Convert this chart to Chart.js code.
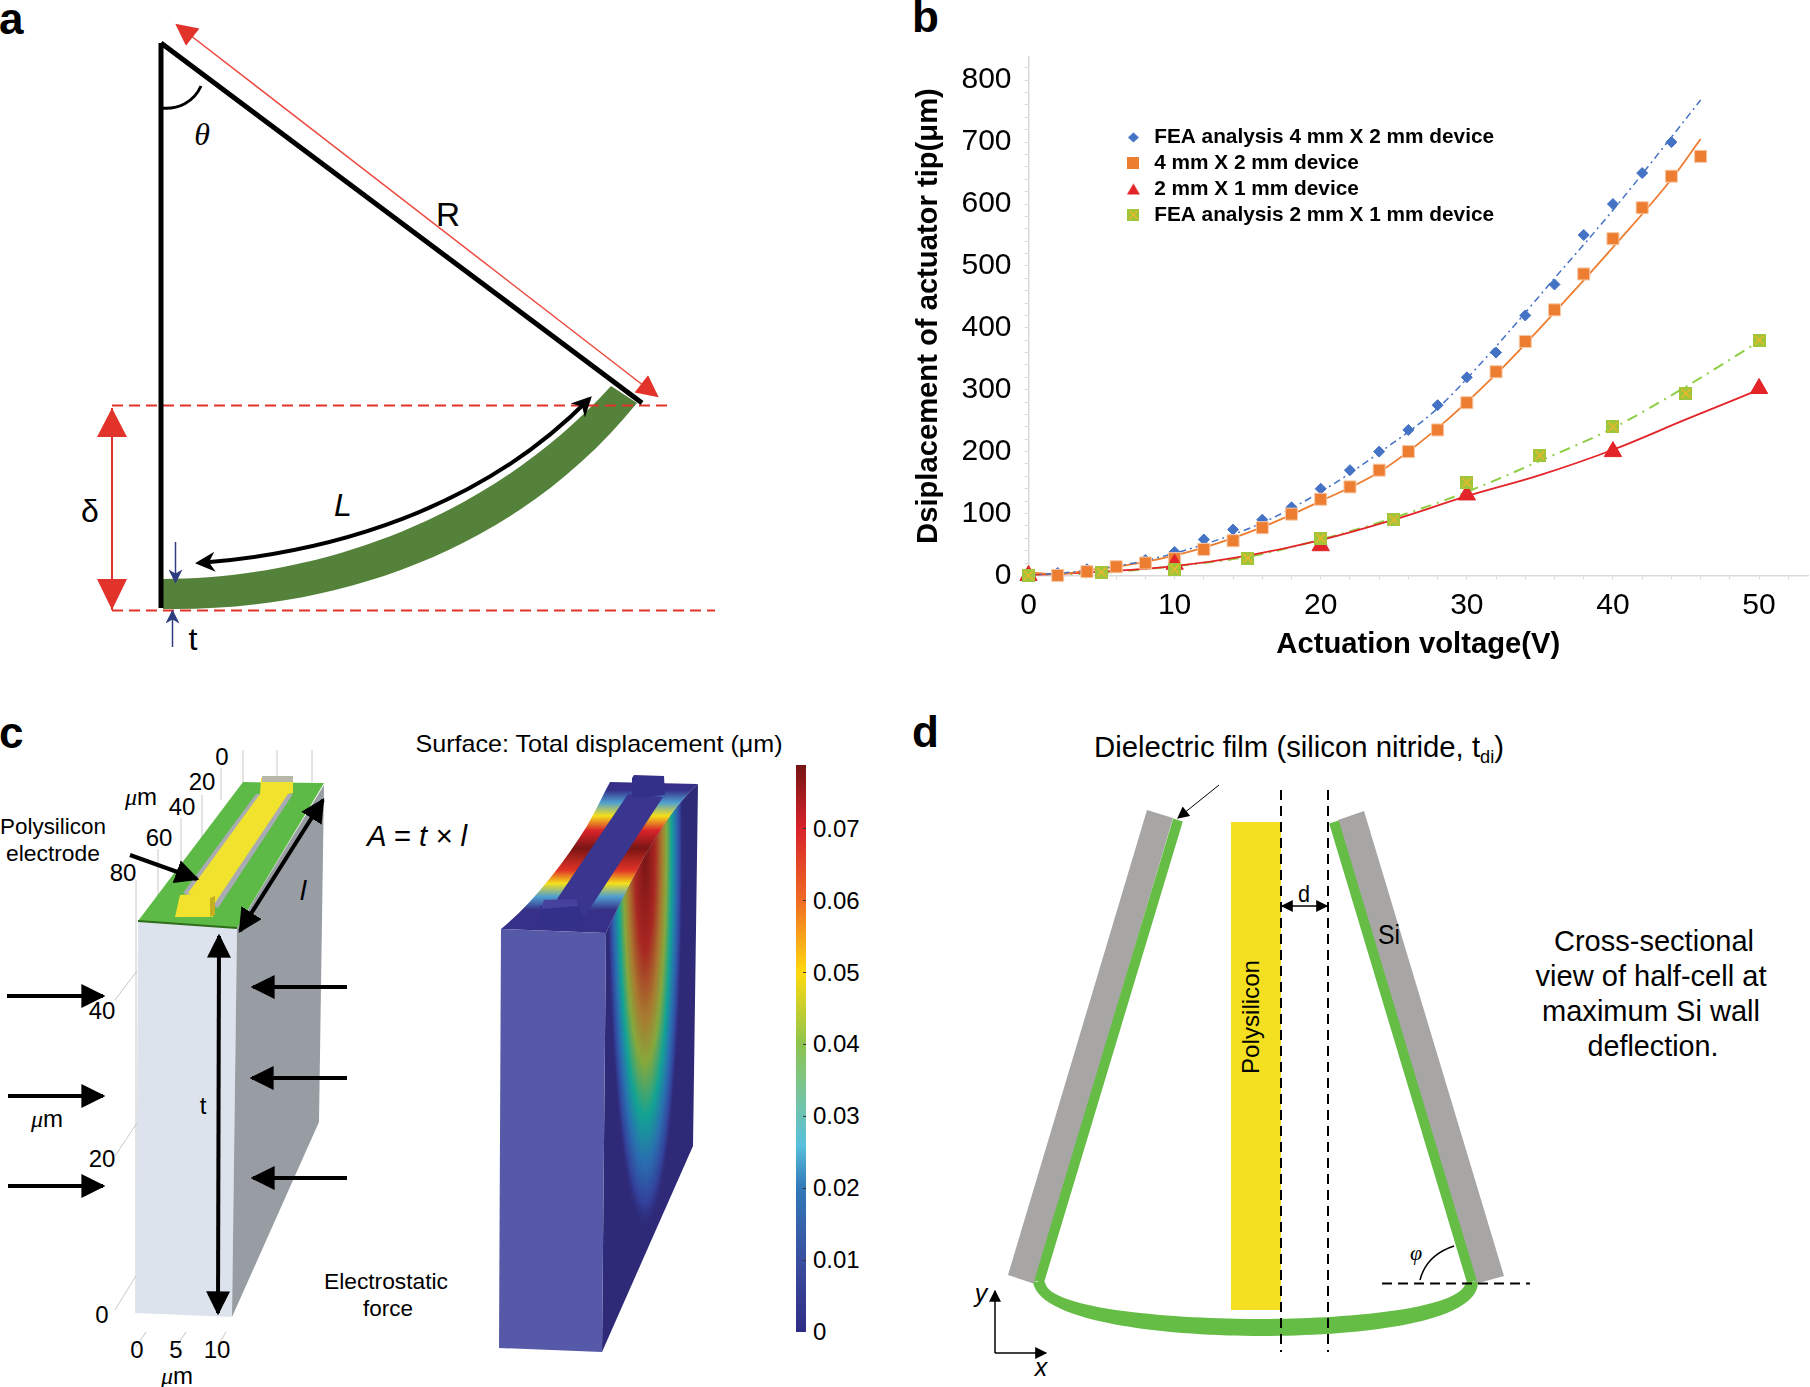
<!DOCTYPE html>
<html>
<head>
<meta charset="utf-8">
<title>Actuator figure</title>
<script src="https://cdn.jsdelivr.net/npm/chart.js@4"></script>
<style>
  html, body { margin: 0; background: #fff; }
  body { width: 1810px; height: 1387px; position: relative; overflow: hidden; }
  #figure { position: absolute; left: 0; top: 0; }
  #figure text { font-family: "Liberation Sans", sans-serif; fill: #000; }
  #figure .serif { font-family: "Liberation Serif", serif; font-style: italic; }
  #figure .letter { font-size: 44px; font-weight: bold; }
  #chart-box { position: absolute; left: 900px; top: 0; width: 910px; height: 680px; }
</style>
</head>
<body>
<svg id="figure" width="1810" height="1387" viewBox="0 0 1810 1387">
  <defs>
    <marker id="blk" viewBox="0 0 10 10" refX="9" refY="5" markerWidth="24" markerHeight="24" markerUnits="userSpaceOnUse" orient="auto-start-reverse"><path d="M0 0L10 5L0 10z" fill="#000"/></marker>
    <marker id="blkSmall" viewBox="0 0 10 10" refX="9" refY="5" markerWidth="14" markerHeight="12" markerUnits="userSpaceOnUse" orient="auto-start-reverse"><path d="M0 0L10 5L0 10z" fill="#000"/></marker>
    <marker id="barb" viewBox="0 0 10 10" refX="8" refY="5" markerWidth="24" markerHeight="20" markerUnits="userSpaceOnUse" orient="auto-start-reverse"><path d="M0 0L10 5L0 10L3 5z" fill="#000"/></marker>
    <marker id="redHead" viewBox="0 0 10 10" refX="9" refY="5" markerWidth="24" markerHeight="22" markerUnits="userSpaceOnUse" orient="auto-start-reverse"><path d="M0 0L10 5L0 10z" fill="#e2332a"/></marker>
    <marker id="navy" viewBox="0 0 10 10" refX="9" refY="5" markerWidth="15" markerHeight="14" markerUnits="userSpaceOnUse" orient="auto-start-reverse"><path d="M0 0L10 5L0 10L3 5z" fill="#2e3c80"/></marker>
    <linearGradient id="scale" x1="0" y1="1" x2="0" y2="0">
      <stop offset="0" stop-color="#2f2c85"/><stop offset="0.126" stop-color="#3a4ea0"/>
      <stop offset="0.253" stop-color="#3178b8"/><stop offset="0.33" stop-color="#58c0dc"/>
      <stop offset="0.42" stop-color="#78c59a"/><stop offset="0.507" stop-color="#8dc44f"/>
      <stop offset="0.634" stop-color="#ffd90f"/><stop offset="0.76" stop-color="#ef6c23"/>
      <stop offset="0.887" stop-color="#d9232a"/><stop offset="1" stop-color="#761414"/>
    </linearGradient>
    <linearGradient id="band" gradientUnits="userSpaceOnUse" x1="0" y1="929" x2="0" y2="782">
      <stop offset="0.13" stop-color="#363089"/><stop offset="0.22" stop-color="#4f9fd0"/>
      <stop offset="0.31" stop-color="#f4e01c"/><stop offset="0.4" stop-color="#e03226"/>
      <stop offset="0.55" stop-color="#7a1515"/><stop offset="0.67" stop-color="#d9232a"/>
      <stop offset="0.77" stop-color="#f4e01c"/><stop offset="0.86" stop-color="#4f9fd0"/>
      <stop offset="0.945" stop-color="#363089"/>
    </linearGradient>
    <radialGradient id="heat" gradientUnits="userSpaceOnUse" cx="0" cy="0" r="1" gradientTransform="translate(645 850) scale(38 380)">
      <stop offset="0" stop-color="#761414"/><stop offset="0.26" stop-color="#a82622"/>
      <stop offset="0.44" stop-color="#a87a30"/><stop offset="0.56" stop-color="#86a83c"/>
      <stop offset="0.7" stop-color="#12a394"/><stop offset="0.82" stop-color="#2a6fb0"/>
      <stop offset="0.93" stop-color="#33409a"/><stop offset="1" stop-color="#2e2a78" stop-opacity="0"/>
    </radialGradient>
    <clipPath id="sideClip"><path d="M606 933C640 860 670 808 698 784L693 1146L602 1352z"/></clipPath>
  </defs>

  <text class="letter" x="-1" y="34">a</text>
  <text class="letter" x="912" y="32">b</text>
  <text class="letter" x="-1" y="748">c</text>
  <text class="letter" x="912" y="747">d</text>

  <!-- panel a -->
  <path d="M163 579C300 579 480 530 611 386L637 403C510 560 320 612 163 609z" fill="#55823a"/>
  <path d="M112 405.500H668M112 610.500H715" stroke="#e2332a" stroke-width="2" stroke-dasharray="11 6" fill="none"/>
  <path d="M161 43V608" stroke="#000" stroke-width="5" fill="none"/>
  <path d="M161 43L642 403" stroke="#000" stroke-width="5" fill="none"/>
  <path d="M161 108C178 110 194 102 201 86" stroke="#000" stroke-width="3" fill="none"/>
  <line x1="177" y1="25" x2="657" y2="396" stroke="#ec4a40" stroke-width="1.500" marker-start="url(#redHead)" marker-end="url(#redHead)"/>
  <line x1="112" y1="408" x2="112" y2="610" stroke="#e2332a" stroke-width="2"/>
  <path d="M112 408L127 437H97zM112 610L127 579H97z" fill="#e2332a"/>
  <path d="M199 563C330 553 480 510 589 399" stroke="#000" stroke-width="4" fill="none" marker-start="url(#barb)" marker-end="url(#barb)"/>
  <line x1="175.500" y1="542" x2="175.500" y2="582" stroke="#2e3c80" stroke-width="1.500" marker-end="url(#navy)"/>
  <line x1="172.500" y1="647" x2="172.500" y2="611" stroke="#2e3c80" stroke-width="1.500" marker-end="url(#navy)"/>
  <text class="serif" x="202" y="145" font-size="32" text-anchor="middle">θ</text>
  <text x="448" y="226" font-size="34" text-anchor="middle" textLength="24" lengthAdjust="spacingAndGlyphs">R</text>
  <text x="90" y="522" font-size="32" text-anchor="middle">δ</text>
  <text x="343" y="516" font-size="32" font-style="italic" text-anchor="middle">L</text>
  <text x="193" y="650" font-size="32" text-anchor="middle">t</text>

  <!-- panel c, electrode geometry -->
  <g stroke="#c8c8c8" stroke-width="1" fill="none">
    <path d="M115 1000L137 971M115 1156L137 1123M115 1310L137 1274M146 1332L136 1347M186 1332L176 1347M226 1332L217 1347"/>
    <path d="M136 1313V880M158 921V849M181 900V818M202 880V795M221 800V768M243 782V750M277 782V750M312 782V750"/>
  </g>
  <path d="M138 921L237 928L232 1317L136 1313z" fill="#dde3ec"/>
  <path d="M237 928L324 785L319 1122L232 1317z" fill="#989da3"/>
  <path d="M138 921L243 782L324 783L237 928z" fill="#5eba46"/>
  <path d="M138 921L237 928" stroke="#2f6d1a" stroke-width="2"/>
  <path d="M183 893L256 794L293 794L218 908z" fill="#a8aab4"/>
  <path d="M188 893L260 794L288 794L213 906z" fill="#f0e22d"/>
  <path d="M261 778L293 778L293 793L288 794L260 794z" fill="#f0e22d"/>
  <path d="M262 776L293 776V782L262 782z" fill="#b8b8a8"/>
  <path d="M180 895L213 893L213 917L175 917z" fill="#f0e22d"/>
  <path d="M210 898L215 896V915L210 917z" fill="#c4b01f"/>
  <line x1="219" y1="936" x2="218" y2="1313" stroke="#000" stroke-width="4" marker-start="url(#blk)" marker-end="url(#blk)"/>
  <line x1="323" y1="800" x2="240" y2="931" stroke="#000" stroke-width="4" marker-start="url(#blk)" marker-end="url(#blk)"/>
  <line x1="130" y1="855" x2="197" y2="879" stroke="#000" stroke-width="4" marker-end="url(#blk)"/>
  <g stroke="#000" stroke-width="4" marker-end="url(#blk)">
    <line x1="7" y1="996" x2="103" y2="996"/><line x1="8" y1="1096" x2="103" y2="1096"/><line x1="8" y1="1186" x2="103" y2="1186"/>
    <line x1="347" y1="987" x2="253" y2="987"/><line x1="347" y1="1078" x2="252" y2="1078"/><line x1="347" y1="1178" x2="253" y2="1178"/>
  </g>
  <g font-size="24" text-anchor="middle">
    <text x="222" y="765">0</text><text x="202" y="790">20</text><text x="182" y="815">40</text>
    <text x="159" y="846">60</text><text x="123" y="881">80</text>
    <text x="102" y="1019">40</text><text x="102" y="1167">20</text><text x="102" y="1323">0</text>
    <text x="137" y="1358">0</text><text x="176" y="1358">5</text><text x="217" y="1358">10</text>
    <text x="141" y="805"><tspan class="serif">μ</tspan>m</text>
    <text x="47" y="1127"><tspan class="serif">μ</tspan>m</text>
    <text x="177" y="1384"><tspan class="serif">μ</tspan>m</text>
    <text x="53" y="834" font-size="22" textLength="106" lengthAdjust="spacingAndGlyphs">Polysilicon</text>
    <text x="53" y="861" font-size="22" textLength="94" lengthAdjust="spacingAndGlyphs">electrode</text>
    <text x="203" y="1114">t</text>
    <text x="386" y="1289" font-size="22" textLength="124" lengthAdjust="spacingAndGlyphs">Electrostatic</text>
    <text x="388" y="1316" font-size="22" textLength="50" lengthAdjust="spacingAndGlyphs">force</text>
    <text x="303" y="900" font-size="28" font-style="italic">l</text>
    <text x="417" y="846" font-size="29" font-style="italic" textLength="100" lengthAdjust="spacingAndGlyphs">A = t × l</text>
  </g>

  <!-- panel c, displacement surface -->
  <text x="599" y="752" font-size="24" text-anchor="middle" textLength="367" lengthAdjust="spacingAndGlyphs">Surface: Total displacement (μm)</text>
  <path d="M606 933C640 860 670 808 698 784L693 1146L602 1352z" fill="#2e2a78"/>
  <rect x="600" y="780" width="100" height="575" fill="url(#heat)" clip-path="url(#sideClip)"/>
  <path d="M501 929C533 903 563 864 587 826C596 810 603 795 610 782L698 784C670 808 640 860 606 933z" fill="url(#band)"/>
  <path d="M557 899L628 794L663 797L585 916z" fill="#3a358f"/>
  <path d="M540 906L578 903L582 918L580 926L540 926z" fill="#33308a"/>
  <path d="M544 900L576 899L578 906L541 909z" fill="#45419c"/>
  <path d="M632 778L634 775L664 776L665 795L632 798z" fill="#33308a"/>
  <path d="M501 929L606 933L602 1352L499 1348z" fill="#5658a8"/>
  <rect x="796" y="765" width="10" height="567" fill="url(#scale)"/>
  <path d="M803 828.500h3M803 900.500h3M803 972.500h3M803 1044.500h3M803 1116.500h3M803 1188.500h3M803 1260.500h3" stroke="#333" stroke-width="1" fill="none"/>
  <g font-size="24">
    <text x="813" y="837">0.07</text><text x="813" y="909">0.06</text><text x="813" y="981">0.05</text><text x="813" y="1052">0.04</text>
    <text x="813" y="1124">0.03</text><text x="813" y="1196">0.02</text><text x="813" y="1268">0.01</text><text x="813" y="1340">0</text>
  </g>

  <!-- panel d -->
  <path d="M1147 810L1173 818L1035 1284L1008 1275z" fill="#a7a6a5"/>
  <path d="M1364 811L1338 820L1475 1284L1504 1276z" fill="#a7a6a5"/>
  <path d="M1178 820L1039 1282M1334 822L1472 1282" stroke="#66bd46" stroke-width="10" fill="none"/>
  <path d="M1033 1282C1040 1325 1180 1336 1260 1336C1350 1336 1478 1325 1478 1282L1466 1282C1462 1310 1340 1319 1260 1319C1180 1319 1048 1310 1045 1282z" fill="#66bd46"/>
  <rect x="1231" y="822" width="50" height="488" fill="#f4e021"/>
  <path d="M1281 790V1352M1328 790V1352M1382 1283.500H1530" stroke="#000" stroke-width="2" stroke-dasharray="10 6" fill="none"/>
  <line x1="1282" y1="906" x2="1327" y2="906" stroke="#000" stroke-width="1.500" marker-start="url(#blkSmall)" marker-end="url(#blkSmall)"/>
  <path d="M1420 1280C1424 1264 1436 1252 1454 1246" stroke="#000" stroke-width="1.500" fill="none"/>
  <line x1="1219" y1="785" x2="1178" y2="818" stroke="#000" stroke-width="1" marker-end="url(#blkSmall)"/>
  <line x1="995" y1="1353" x2="995" y2="1291" stroke="#000" stroke-width="1.500" marker-end="url(#blkSmall)"/>
  <line x1="995" y1="1353" x2="1046" y2="1353" stroke="#000" stroke-width="1.500" marker-end="url(#blkSmall)"/>
  <text x="1094" y="757" font-size="29" textLength="410" lengthAdjust="spacingAndGlyphs">Dielectric film (silicon nitride, t<tspan font-size="18" dy="6">di</tspan><tspan dy="-6">)</tspan></text>
  <text transform="translate(1259 1017) rotate(-90)" font-size="24" text-anchor="middle" textLength="114" lengthAdjust="spacingAndGlyphs">Polysilicon</text>
  <text x="1304" y="902" font-size="24" text-anchor="middle" textLength="12" lengthAdjust="spacingAndGlyphs">d</text>
  <text x="1389" y="944" font-size="27" text-anchor="middle" textLength="22" lengthAdjust="spacingAndGlyphs">Si</text>
  <g font-size="29" text-anchor="middle">
    <text x="1654" y="951" textLength="200" lengthAdjust="spacingAndGlyphs">Cross-sectional</text>
    <text x="1651" y="986" textLength="231" lengthAdjust="spacingAndGlyphs">view of half-cell at</text>
    <text x="1651" y="1021" textLength="218" lengthAdjust="spacingAndGlyphs">maximum Si wall</text>
    <text x="1653" y="1056" textLength="131" lengthAdjust="spacingAndGlyphs">deflection.</text>
  </g>
  <text class="serif" x="1416" y="1260" font-size="22" text-anchor="middle">φ</text>
  <text x="981" y="1302" font-size="25" font-style="italic" text-anchor="middle">y</text>
  <text x="1041" y="1376" font-size="25" font-style="italic" text-anchor="middle">x</text>
</svg>

<div id="chart-box"><canvas id="chart" width="910" height="680"></canvas></div>

<script>
const FEA_LARGE_X = [0, 2, 4, 6, 8, 10, 12, 14, 16, 18, 20, 22, 24, 26, 28, 30, 32, 34, 36, 38, 40, 42, 44];
const FEA_LARGE_Y = [0, 4, 10, 15, 25, 38, 58, 74, 90, 110, 140, 170, 200, 235, 275, 320, 360, 420, 470, 550, 600, 650, 700];
const LARGE_X = [0, 2, 4, 6, 8, 10, 12, 14, 16, 18, 20, 22, 24, 26, 28, 30, 32, 34, 36, 38, 40, 42, 44, 46];
const LARGE_Y = [0, 0, 6, 14, 20, 27, 42, 56, 77, 99, 123, 143, 170, 200, 235, 279, 329, 378, 429, 487, 544, 594, 645, 677];
const SMALL_X = [0, 10, 20, 30, 40, 50];
const SMALL_Y = [0, 18, 48, 130, 200, 302];
const FEA_SMALL_X = [0, 5, 10, 15, 20, 25, 30, 35, 40, 45, 50];
const FEA_SMALL_Y = [0, 5, 10, 28, 60, 90, 150, 194, 240, 294, 380];

// fitted curves as they are drawn in the figure
const FEA_LARGE_FIT_X = [0, 4, 8, 12, 16, 20, 24, 28, 32, 36, 40, 44, 46];
const FEA_LARGE_FIT_Y = [0, 8, 24, 50, 85, 135, 198, 270, 370, 480, 590, 708, 768];
const LARGE_FIT_X = [0, 2, 4, 8, 12, 16, 20, 24, 28, 32, 36, 40, 44, 46];
const LARGE_FIT_Y = [5, 2, 8, 22, 45, 78, 120, 167, 238, 325, 425, 530, 640, 705];
const SMALL_FIT_X = [0, 5, 10, 15, 20, 25, 30, 35, 40, 45, 50];
const SMALL_FIT_Y = [0, 6, 15, 32, 57, 90, 128, 162, 203, 252, 300];
const FEA_SMALL_FIT_X = [0, 5, 10, 15, 20, 25, 30, 35, 40, 45, 50];
const FEA_SMALL_FIT_Y = [0, 4, 15, 30, 58, 93, 135, 185, 238, 305, 378];

const LABELS = ["FEA analysis 4 mm X 2 mm device", "4 mm X 2 mm device", "2 mm X 1 mm device", "FEA analysis 2 mm X 1 mm device"];
const FONT = "'Liberation Sans', sans-serif";

const toPoints = (xs, ys) => xs.map((x, i) => ({ x, y: ys[i] }));

const makeIcon = (size, draw) => {
  const icon = document.createElement("canvas");
  icon.width = size;
  icon.height = size;
  draw(icon.getContext("2d"), size);
  return icon;
};

const greenSquare = (size) =>
  makeIcon(size, (ctx, s) => {
    ctx.fillStyle = "#9fc63b";
    ctx.fillRect(0, 0, s, s);
    ctx.strokeStyle = "#f0b62a";
    ctx.lineWidth = 1.5;
    ctx.beginPath();
    ctx.moveTo(2, 2);
    ctx.lineTo(s - 2, s - 2);
    ctx.moveTo(s - 2, 2);
    ctx.lineTo(2, s - 2);
    ctx.stroke();
  });

const LEGEND_ICONS = [
  makeIcon(13, (ctx, s) => {
    ctx.fillStyle = "#4472c4";
    ctx.beginPath();
    ctx.moveTo(s / 2, 1.5);
    ctx.lineTo(s - 1, s / 2);
    ctx.lineTo(s / 2, s - 1.5);
    ctx.lineTo(1, s / 2);
    ctx.fill();
  }),
  makeIcon(12, (ctx, s) => {
    ctx.fillStyle = "#ed7d31";
    ctx.fillRect(0, 0, s, s);
  }),
  makeIcon(13, (ctx, s) => {
    ctx.fillStyle = "#e32428";
    ctx.beginPath();
    ctx.moveTo(s / 2, 1);
    ctx.lineTo(s, s - 1);
    ctx.lineTo(0, s - 1);
    ctx.fill();
  }),
  greenSquare(12),
];

const markers = (label, xs, ys, style, color, radius, order, border) => ({
  label,
  data: toPoints(xs, ys),
  showLine: false,
  pointStyle: style,
  pointRadius: radius,
  backgroundColor: color,
  borderColor: border,
  pointBorderWidth: 1,
  clip: false,
  order,
});

const fit = (xs, ys, color, width, dash) => ({
  label: "fit",
  data: toPoints(xs, ys),
  showLine: true,
  pointRadius: 0,
  borderColor: color,
  backgroundColor: color,
  borderWidth: width,
  borderDash: dash,
  tension: 0.4,
  cubicInterpolationMode: "monotone",
  order: 5,
});

const noPadding = (scale) => {
  scale.paddingLeft = 0;
  scale.paddingRight = 0;
  scale.paddingTop = 0;
  scale.paddingBottom = 0;
};

const moveLegend = {
  id: "moveLegend",
  afterLayout(chart) {
    const legend = chart.legend;
    legend.left = 218;
    legend.top = 122;
    legend.right = 218 + 600;
    legend.bottom = 122 + 200;
  },
};

new Chart(document.getElementById("chart"), {
  type: "scatter",
  data: {
    datasets: [
      markers(LABELS[0], FEA_LARGE_X, FEA_LARGE_Y, "rectRot", "#4472c4", 5.5, 4, "#4472c4"),
      markers(LABELS[1], LARGE_X, LARGE_Y, "rect", "#ed7d31", 8.5, 3, "#f8c9a6"),
      markers(LABELS[2], SMALL_X, SMALL_Y, "triangle", "#e32428", 10, 2, "#e32428"),
      markers(LABELS[3], FEA_SMALL_X, FEA_SMALL_Y, greenSquare(13), "#9fc63b", 6, 1, "#9fc63b"),
      fit(FEA_LARGE_FIT_X, FEA_LARGE_FIT_Y, "#4472c4", 1.5, [7, 4, 2, 4]),
      fit(LARGE_FIT_X, LARGE_FIT_Y, "#ed7d31", 1.8, []),
      fit(SMALL_FIT_X, SMALL_FIT_Y, "#e32428", 1.8, []),
      fit(FEA_SMALL_FIT_X, FEA_SMALL_FIT_Y, "#8fcf45", 2, [11, 6, 2, 6]),
    ],
  },
  options: {
    responsive: false,
    animation: false,
    events: [],
    devicePixelRatio: 1,
    layout: { autoPadding: false, padding: { top: 56.7, right: 2, bottom: 0, left: 0 } },
    plugins: {
      tooltip: { enabled: false },
      legend: {
        position: "chartArea",
        align: "start",
        labels: {
          color: "#000",
          padding: 5,
          boxHeight: 12,
          usePointStyle: true,
          font: { family: FONT, size: 20.8, weight: "bold" },
          generateLabels: () =>
            LABELS.map((text, i) => ({
              text,
              datasetIndex: i,
              hidden: false,
              lineWidth: 0,
              fontColor: "#000",
              pointStyle: LEGEND_ICONS[i],
            })),
        },
      },
    },
    scales: {
      x: {
        type: "linear",
        min: 0,
        max: 53.35,
        afterFit: (scale) => {
          scale.height = 104.6;
          noPadding(scale);
        },
        border: { color: "#d9d9d9", width: 1.5 },
        grid: { drawOnChartArea: false, tickLength: 4, tickColor: "#d9d9d9" },
        ticks: {
          stepSize: 2,
          includeBounds: false,
          autoSkip: false,
          maxRotation: 0,
          padding: 8,
          color: "#000",
          font: { family: FONT, size: 30 },
          callback: (v) => (v % 10 === 0 ? String(v) : ""),
        },
        title: {
          display: true,
          text: "Actuation voltage(V)",
          color: "#000",
          font: { family: FONT, size: 29.2, weight: "bold" },
          padding: { top: 0, bottom: 18 },
        },
      },
      y: {
        type: "linear",
        min: 0,
        max: 838,
        afterFit: (scale) => {
          scale.width = 128.5;
          noPadding(scale);
        },
        border: { color: "#d9d9d9", width: 1.5 },
        grid: { drawOnChartArea: false, tickLength: 4, tickColor: "#d9d9d9" },
        ticks: {
          stepSize: 20,
          includeBounds: false,
          autoSkip: false,
          padding: 13,
          color: "#000",
          font: { family: FONT, size: 30 },
          callback: (v) => (v % 100 === 0 ? String(v) : ""),
        },
        title: {
          display: true,
          text: "Dsiplacement of actuator tip(μm)",
          color: "#000",
          font: { family: FONT, size: 29.2, weight: "bold" },
          padding: { top: 11, bottom: 0 },
        },
      },
    },
  },
  plugins: [moveLegend],
});
</script>
</body>
</html>
